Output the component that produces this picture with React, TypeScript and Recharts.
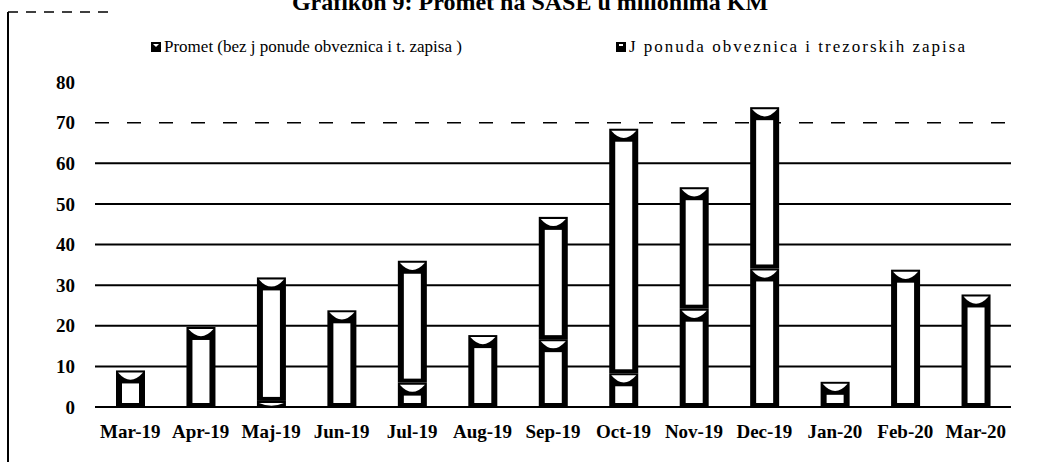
import React from "react";
import {
  BarChart,
  Bar,
  XAxis,
  YAxis,
  CartesianGrid,
  Legend,
} from "recharts";

const months = [
  "Mar-19", "Apr-19", "Maj-19", "Jun-19", "Jul-19", "Aug-19", "Sep-19",
  "Oct-19", "Nov-19", "Dec-19", "Jan-20", "Feb-20", "Mar-20",
];
// promet bez javne ponude obveznica i t. zapisa
const promet = [9, 19.7, 1.5, 23.8, 6, 17.7, 16.7, 8.3, 24.2, 34.1, 6.2, 33.8, 27.7];
// javna ponuda obveznica i trezorskih zapisa
const jPonuda = [0, 0, 30.4, 0, 30, 0, 30.1, 60.2, 29.9, 39.7, 0, 0, 0];
const yTicks = [0, 10, 20, 30, 40, 50, 60, 70, 80];
const solidGrid = [0, 10, 20, 30, 40, 50, 60];
const dashedGrid = [70];

const seriesNames = [
  "Promet (bez j ponude obveznica i t. zapisa )",
  "J ponuda obveznica i trezorskih zapisa",
];

const data = months.map((m, i) => ({
  month: m,
  promet: promet[i],
  jPonuda: jPonuda[i],
}));

const FONT = "'Liberation Serif', 'Times New Roman', serif";

// scanned look: black thick outline, white body, white "cap" at the top
const CylBar = (props: any) => {
  const { x, y, width, height } = props;
  if (!height || height <= 0.5) return null;
  const b = 6;
  const cap = Math.min(8, height / 2);
  return (
    <g>
      <rect x={x} y={y} width={width} height={height} fill="#000" />
      {height > 2 * b + cap && (
        <rect
          x={x + b}
          y={y + cap + 5}
          width={width - 2 * b}
          height={height - cap - 5 - 4}
          fill="#fff"
        />
      )}
      <path
        d={`M${x + 2},${y + 2} L${x + width - 2},${y + 2} Q${x + width / 2},${
          y + 2 + cap * 1.8
        } ${x + 2},${y + 2} Z`}
        fill="#fff"
      />
    </g>
  );
};

const legendLeft = [150, 615];

const LegendBox = () => (
  <div
    style={{
      position: "relative",
      height: 20,
      width: 1050,
      fontFamily: FONT,
      fontSize: 17,
      color: "#000",
    }}
  >
    {seriesNames.map((name, i) => (
      <div
        key={name}
        style={{
          position: "absolute",
          left: legendLeft[i],
          top: 0,
          whiteSpace: "nowrap",
          display: "flex",
          alignItems: "center",
          letterSpacing: i === 0 ? 0 : 2,
        }}
      >
        <svg width={12} height={12} style={{ marginRight: 2 }}>
          <rect x={1} y={1} width={10} height={10} fill="#000" />
          {i === 0 ? (
            <path d="M3,3 L6,6 L9,3 Z" fill="#fff" />
          ) : (
            <rect x={4} y={3} width={4} height={2} fill="#fff" />
          )}
        </svg>
        <span>{name}</span>
      </div>
    ))}
  </div>
);

export default function App() {
  return (
    <div
      style={{
        position: "absolute",
        left: 0,
        top: 0,
        width: 1050,
        height: 462,
        overflow: "hidden",
        background: "#fff",
        fontFamily: FONT,
      }}
    >
      <svg
        width={1050}
        height={20}
        style={{ position: "absolute", left: 0, top: 0 }}
      >
        <text
          x={530}
          y={10}
          textAnchor="middle"
          fontFamily={FONT}
          fontWeight="bold"
          fontSize={24}
          fill="#000"
        >
          Grafikon 9: Promet na SASE u milionima KM
        </text>
        <line x1={8} y1={12} x2={112} y2={12} stroke="#000" strokeWidth={1.5} strokeDasharray="10 8" />
      </svg>
      <div
        style={{
          position: "absolute",
          left: 7,
          top: 12,
          width: 2,
          height: 450,
          background: "#000",
        }}
      />
      <BarChart
        width={1050}
        height={462}
        data={data}
        margin={{ top: 62, right: 39, left: 0, bottom: 0 }}
        barSize={29}
      >
        <CartesianGrid
          vertical={false}
          horizontalValues={solidGrid}
          stroke="#000"
          strokeWidth={2}
        />
        <CartesianGrid
          vertical={false}
          horizontalValues={dashedGrid}
          stroke="#000"
          strokeWidth={1.5}
          strokeDasharray="14 18"
        />
        <XAxis
          dataKey="month"
          axisLine={false}
          tickLine={false}
          tickSize={0}
          tickMargin={18}
          height={55}
          interval={0}
          tick={{ fontFamily: FONT, fontSize: 19, fontWeight: "bold", fill: "#000" }}
        />
        <YAxis
          domain={[0, 80]}
          ticks={yTicks}
          axisLine={false}
          tickLine={false}
          tickSize={0}
          tickMargin={20}
          width={95}
          tick={{ fontFamily: FONT, fontSize: 19, fontWeight: "bold", fill: "#000" }}
        />
        <Legend
          verticalAlign="top"
          height={20}
          wrapperStyle={{ top: 37, left: 0 }}
          content={() => <LegendBox />}
        />
        <Bar
          dataKey="promet"
          name={seriesNames[0]}
          stackId="a"
          shape={<CylBar />}
          isAnimationActive={false}
        />
        <Bar
          dataKey="jPonuda"
          name={seriesNames[1]}
          stackId="a"
          shape={<CylBar />}
          isAnimationActive={false}
        />
      </BarChart>
    </div>
  );
}
